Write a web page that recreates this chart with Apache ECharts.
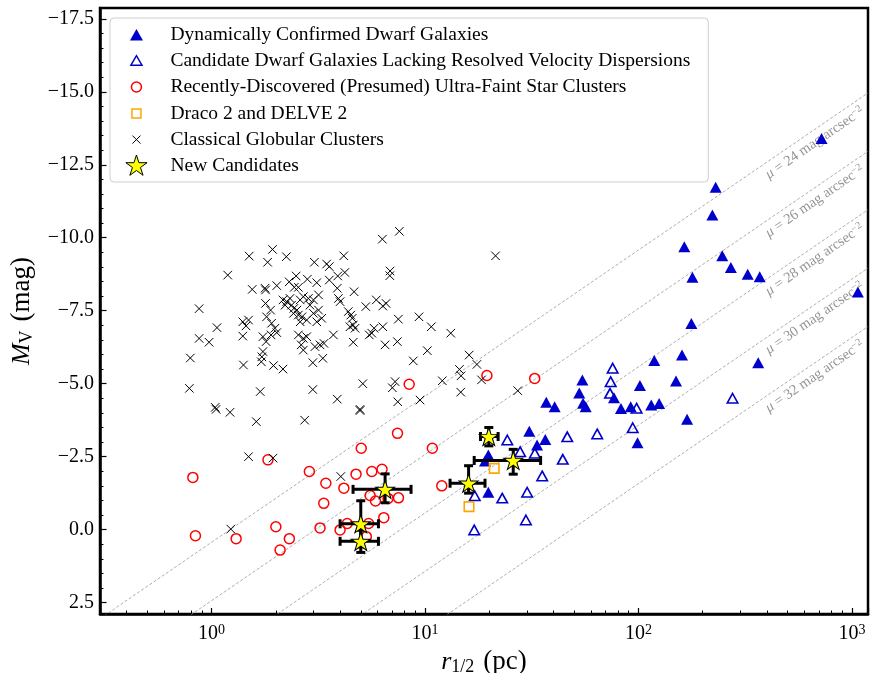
<!DOCTYPE html>
<html><head><meta charset="utf-8">
<script src="https://cdn.jsdelivr.net/npm/echarts@6/dist/echarts.min.js"></script>
<style>html,body{margin:0;padding:0;background:#fff}#c{width:870px;height:673px}</style>
</head><body><div id="c"></div>
<script>
// ---------- data (r_1/2 in pc, M_V in mag) ----------
const dwarfConfirmed = [
 [230,-11.73],[222,-10.78],[164,-9.69],[247,-9.38],[271,-8.98],[325,-8.75],[370,-8.66],[179,-8.65],
 [1067,-8.14],[177,-7.06],[160,-5.98],[118.6,-5.79],[364,-5.72],[150,-5.09],[54.6,-5.13],[101.6,-4.94],
 [52.8,-4.68],[37,-4.36],[40.5,-4.21],[55.0,-4.33],[56.6,-4.21],[76.8,-4.52],[82.8,-4.15],[92,-4.21],
 [114.8,-4.27],[125,-4.32],[169,-3.78],[99,-2.98],[30.8,-3.37],[33.5,-2.90],[36.6,-3.09],[19.8,-2.56],
 [19.1,-2.35],[19.8,-1.28],[721,-13.40]
];
const dwarfCandidates = [
 [75.7,-5.53],[74.1,-5.07],[73.6,-4.67],[98,-4.16],[276,-4.50],[94,-3.49],[64.1,-3.28],[46.4,-3.18],
 [44.2,-2.41],[32.7,-2.62],[27.9,-2.67],[24.3,-3.07],[35.4,-1.84],[30.1,-1.28],[23.0,-1.08],[17.1,-1.16],
 [29.7,-0.33],[17.0,0.01]
];
const starClusters = [
 [0.817,-1.79],[0.840,0.21],[1.303,0.31],[1.837,-2.39],[2.0,-0.10],[2.314,0.31],[2.094,0.70],[2.871,-1.99],
 [3.43,-1.59],[3.354,-0.90],[3.222,-0.06],[4.166,-1.42],[5.025,-2.79],[4.752,-1.90],[5.633,-1.99],[6.29,-2.07],
 [7.43,-3.30],[8.43,-4.98],[4.0,0.01],[4.32,-0.21],[5.44,-0.21],[5.31,0.24],[6.41,-0.41],[5.53,-1.17],
 [5.86,-0.98],[6.71,-1.07],[7.51,-1.09],[10.82,-2.79],[11.98,-1.50],[19.5,-5.28],[32.65,-5.18]
];
const draco2Delve2 = [[21.1,-2.10],[16.07,-0.79]];
const globularClusters = [
 [7.58,-10.22],[6.31,-9.95],[1.93,-9.60],[1.50,-9.37],[2.24,-9.35],[4.16,-9.38],[21.4,-9.38],[1.83,-9.16],
 [3.03,-9.16],[3.46,-9.10],[3.56,-9.01],[1.19,-8.72],[4.21,-8.81],[3.90,-8.69],[6.86,-8.86],[6.84,-8.70],
 [2.49,-8.69],[1.55,-8.23],[1.78,-8.27],[1.79,-8.21],[2.02,-8.36],[2.31,-8.49],[2.55,-8.30],[2.81,-8.58],
 [3.11,-8.46],[3.56,-8.55],[3.88,-8.27],[4.65,-8.15],[2.44,-8.30],[1.79,-7.75],[1.89,-7.52],[1.81,-7.29],
 [1.91,-7.07],[1.98,-6.90],[1.90,-6.67],[2.02,-6.75],[1.74,-6.61],[1.80,-6.44],[1.74,-6.10],[1.71,-5.75],
 [1.95,-5.62],[2.16,-5.50],[2.16,-7.87],[2.21,-7.69],[2.25,-7.81],[2.33,-7.92],[2.37,-7.69],[2.43,-7.58],
 [2.51,-7.52],[2.42,-7.41],[2.55,-7.35],[2.65,-7.29],[2.60,-7.87],[2.69,-7.98],[2.84,-7.92],[2.89,-7.69],
 [3.00,-7.87],[3.17,-8.04],[3.17,-7.52],[3.28,-7.24],[3.11,-7.12],[2.79,-7.18],[2.60,-7.12],[3.00,-7.41],
 [2.55,-6.67],[2.79,-6.61],[2.63,-6.33],[2.69,-6.15],[3.05,-6.27],[3.22,-6.33],[3.36,-6.38],[3.32,-5.87],
 [2.98,-5.72],[3.72,-6.67],[3.93,-7.92],[4.00,-7.81],[4.37,-7.47],[4.49,-7.35],[4.56,-7.24],[4.45,-6.95],
 [4.61,-7.01],[4.70,-6.90],[4.61,-6.42],[5.28,-7.64],[5.91,-7.87],[6.34,-7.66],[6.57,-7.75],[7.50,-7.21],
 [9.37,-7.29],[10.7,-6.95],[13.2,-6.73],[5.77,-6.90],[5.63,-6.73],[5.48,-6.67],[6.34,-6.95],[6.50,-6.33],
 [7.42,-6.44],[8.81,-5.78],[10.25,-6.13],[16.1,-5.98],[17.5,-5.66],[14.5,-5.49],[14.75,-5.27],[12.05,-5.10],
 [18.4,-5.13],[14.7,-4.71],[9.48,-4.44],[7.45,-4.38],[7.24,-5.07],[7.03,-4.86],[5.11,-5.00],[3.88,-4.47],
 [4.96,-4.08],[4.96,-4.12],[2.98,-4.80],[2.73,-3.75],[1.62,-3.70],[1.69,-4.73],[1.22,-4.02],[1.04,-4.19],
 [1.05,-4.12],[0.787,-4.84],[27.2,-4.76],[0.874,-7.57],[1.06,-6.92],[0.874,-6.55],[0.973,-6.42],[0.795,-5.88],
 [1.40,-7.12],[1.45,-6.98],[1.49,-7.18],[1.40,-6.63],[1.41,-5.64],[1.49,-2.50],[1.94,-2.45],[4.03,-1.82],
 [1.23,-0.02],[2.69,-6.55],[1.72,-5.92]
];
// new candidates: [r, M, rLow, rHigh, MBright, MFaint]
const newCandidates = [
 [6.5,-1.38,4.6,8.6,-1.91,-0.92],
 [5.0,-0.20,4.0,6.05,-0.99,0.59],
 [5.0,0.40,4.0,6.05,0.02,0.78],
 [16.0,-1.59,13.1,19.1,-2.19,-1.25],
 [25.9,-2.37,17.0,34.8,-2.75,-1.90],
 [19.9,-3.19,18.2,22.0,-3.50,-2.87]
];
// surface-brightness reference lines: M at r = 0.3 pc and r = 1190 pc
const muLevels = [24,26,28,30,32];
const muLineR = [0.3,1190];
const muLineMStart = [3.05,5.05,7.05,9.05,11.05];
const muLineMEnd = [-14.96,-12.96,-10.96,-8.96,-6.96];
const muLabelR = 370;
const muLabelM = [-12.41,-10.41,-8.41,-6.41,-4.41];
// ticks
const yMajorTicks = [-17.5,-15,-12.5,-10,-7.5,-5,-2.5,0,2.5];
const yTickLabels = ['\u221217.5','\u221215.0','\u221212.5','\u221210.0','\u22127.5','\u22125.0','\u22122.5','0.0','2.5'];
const yMinorTicks = [-17,-16.5,-16,-15.5,-14.5,-14,-13.5,-13,-12,-11.5,-11,-10.5,-9.5,-9,-8.5,-8,-7,-6.5,-6,-5.5,-4.5,-4,-3.5,-3,-2,-1.5,-1,-0.5,0.5,1,1.5,2];
const xMajorTicks = [1,10,100,1000];
const xTickExponents = ['0','1','2','3'];
const xMinorTicks = [0.4,0.5,0.6,0.7,0.8,0.9,2,3,4,5,6,7,8,9,20,30,40,50,60,70,80,90,200,300,400,500,600,700,800,900];
const names = ['Dynamically Confirmed Dwarf Galaxies','Candidate Dwarf Galaxies Lacking Resolved Velocity Dispersions',
 'Recently-Discovered (Presumed) Ultra-Faint Star Clusters','Draco 2 and DELVE 2','Classical Globular Clusters','New Candidates'];

// ---------- chart ----------
const SERIF = 'Liberation Serif';
const BLUE = '#0000cc';
const STAR = 'path://M50,0L61.2,34.5L97.6,34.5L68.2,55.9L79.4,90.5L50,69.1L20.6,90.5L31.8,55.9L2.4,34.5L38.8,34.5Z';
const CROSS = 'path://M0,0L10,10M10,0L0,10';
const ICON = {
  triF: 'path://M0,0M22,22M4.5,16.5L11,5L17.5,16.5Z',
  triO: 'path://M0,0M22,22M5.5,15.5L11,6L16.5,15.5Z',
  circ: 'path://M0,0M22,22M16,11A5,5,0,1,1,6,11A5,5,0,1,1,16,11Z',
  sq: 'path://M0,0M22,22M6.5,6.5L15.5,6.5L15.5,15.5L6.5,15.5Z',
  cross: 'path://M0,0M22,22M7,7L15,15M15,7L7,15',
  star: 'path://M0,0M22,22M11,0.5L13.5,8.2L21.6,8.2L15,13L17.6,20.8L11,16L4.4,20.8L7,13L0.4,8.2L8.5,8.2Z'
};

const chart = echarts.init(document.getElementById('c'), null, {renderer:'canvas'});

const muSeries = muLevels.map((mu, i) => ({
  type:'line', silent:true, symbol:'none', z:1, animation:false,
  data:[[muLineR[0], muLineMStart[i]],[muLineR[1], muLineMEnd[i]]],
  lineStyle:{color:'#999', width:0.8, type:[3,2]}
}));

const titleRich = {
  i:{fontFamily:SERIF, fontStyle:'italic', fontSize:26, color:'#000', lineHeight:28},
  sub:{fontFamily:SERIF, fontSize:18, color:'#000', lineHeight:16, verticalAlign:'bottom'},
  n:{fontFamily:SERIF, fontSize:27, color:'#000', lineHeight:28, padding:[0,0,0,9]}
};

const option = {
  animation:false,
  backgroundColor:'#fff',
  grid:{left:100, top:8, right:2, bottom:59, outerBoundsMode:'none', containLabel:false,
        show:true, borderColor:'#000', borderWidth:2.5, backgroundColor:'transparent'},
  legend:{
    orient:'vertical', left:110, top:18, padding:[6,18,5,14.7],
    itemWidth:22, itemHeight:22, itemGap:2.9,
    backgroundColor:'rgba(255,255,255,0.85)', borderColor:'#cfcfcf', borderWidth:1, borderRadius:4,
    textStyle:{fontFamily:SERIF, fontSize:19.5, lineHeight:22, color:'#000', padding:[0,0,0,18]},
    data:[
      {name:names[0], icon:ICON.triF},
      {name:names[1], icon:ICON.triO, itemStyle:{borderWidth:1.5}},
      {name:names[2], icon:ICON.circ, itemStyle:{borderWidth:1.5}},
      {name:names[3], icon:ICON.sq, itemStyle:{borderWidth:1.5}},
      {name:names[4], icon:ICON.cross, itemStyle:{borderWidth:1}},
      {name:names[5], icon:ICON.star, itemStyle:{borderWidth:1}}
    ]
  },
  xAxis:[
    {type:'log', logBase:10, min:0.3, max:1190,
     axisLine:{onZero:false, lineStyle:{color:'#000', width:2.5}},
     axisTick:{inside:true, length:6, lineStyle:{color:'#000', width:1.2}},
     splitLine:{show:false},
     axisLabel:{margin:9, color:'#000',
       formatter:function(v){ const i = xMajorTicks.findIndex(t => Math.abs(t - v) / t < 1e-6); return i < 0 ? '' : '{b|10}{s|' + xTickExponents[i] + '}'; },
       rich:{b:{fontFamily:SERIF, fontSize:20, color:'#000', lineHeight:22}, s:{fontFamily:SERIF, fontSize:14, color:'#000', lineHeight:13, verticalAlign:'top'}}},
     name:'{i|r}{sub|1/2}{n|(pc)}', nameLocation:'middle', nameGap:34,
     nameTextStyle:{rich:titleRich}
    },
    {type:'log', logBase:10, min:0.3, max:1190, position:'bottom',
     axisLine:{show:false, onZero:false},
     axisTick:{inside:true, length:3.5, customValues:xMinorTicks, lineStyle:{color:'#000', width:1}},
     axisLabel:{show:false}, splitLine:{show:false}}
  ],
  yAxis:[
    {type:'value', inverse:true, min:-17.87, max:2.89,
     axisLine:{show:true, onZero:false, lineStyle:{color:'#000', width:2.5}},
     axisTick:{show:true, inside:true, length:6.5, customValues:yMajorTicks, lineStyle:{color:'#000', width:1.2}},
     splitLine:{show:false},
     axisLabel:{customValues:yMajorTicks, margin:6, color:'#000', fontFamily:SERIF, fontSize:20,
       formatter:function(v){ const i = yMajorTicks.findIndex(t => Math.abs(t - v) < 1e-6); return i < 0 ? '' : yTickLabels[i]; }},
     name:'{i|M}{sub|V}{n|(mag)}', nameLocation:'middle', nameGap:64, nameRotate:90,
     nameTextStyle:{rich:titleRich}
    },
    {type:'value', inverse:true, min:-17.87, max:2.89, position:'left',
     axisLine:{show:false, onZero:false},
     axisTick:{show:true, inside:true, length:3.5, customValues:yMinorTicks, lineStyle:{color:'#000', width:1}},
     axisLabel:{show:false}, splitLine:{show:false}}
  ],
  series:[].concat(muSeries, [
    {type:'custom', name:'muLabels', silent:true, clip:true, z:2,
     data: muLevels.map((mu, i) => [muLabelR, muLabelM[i], mu, muLineR[1], muLineMEnd[i]]),
     renderItem:function(params, api){
       const p = api.coord([api.value(0), api.value(1)]);
       const q = api.coord([api.value(3), api.value(4)]);
       const ang = -Math.atan2(q[1] - p[1], q[0] - p[0]);
       return {type:'text', x:p[0], y:p[1], rotation:ang,
         style:{x:1, y:3, text:'{i|\u03bc} = ' + api.value(2) + ' mag arcsec{s|\u22122}', fill:'#959595',
           fontFamily:SERIF, fontSize:14.5, align:'left', verticalAlign:'top',
           rich:{i:{fontStyle:'italic', fontFamily:SERIF, fontSize:14.5, fill:'#959595', lineHeight:16},
                 s:{fontFamily:SERIF, fontSize:10, fill:'#959595', lineHeight:10, verticalAlign:'top'}}}};
     }},
    {type:'scatter', name:names[0], data:dwarfConfirmed, symbol:'triangle', symbolSize:[12,11], z:3,
     itemStyle:{color:BLUE, borderWidth:0, opacity:1}},
    {type:'scatter', name:names[1], data:dwarfCandidates, symbol:'triangle', symbolSize:[10.5,9.5], z:4,
     itemStyle:{color:'rgba(255,255,255,0)', borderColor:BLUE, borderWidth:1.6, opacity:1}},
    {type:'scatter', name:names[2], data:starClusters, symbol:'circle', symbolSize:10, z:5,
     itemStyle:{color:'rgba(255,255,255,0)', borderColor:'#ff0000', borderWidth:1.5, opacity:1}},
    {type:'scatter', name:names[3], data:draco2Delve2, symbol:'rect', symbolSize:9.5, z:6,
     itemStyle:{color:'rgba(255,255,255,0)', borderColor:'#ffa500', borderWidth:1.6, opacity:1}},
    {type:'scatter', name:names[4], data:globularClusters, symbol:CROSS, symbolSize:8.5, z:7,
     itemStyle:{color:'rgba(0,0,0,0)', borderColor:'#000', borderWidth:1, opacity:1}},
    {type:'custom', name:'errorbars', silent:true, z:8,
     data:newCandidates,
     encode:{x:0, y:1},
     renderItem:function(params, api){
       const c = api.coord([api.value(0), api.value(1)]);
       const l = api.coord([api.value(2), api.value(1)]);
       const r = api.coord([api.value(3), api.value(1)]);
       const t = api.coord([api.value(0), api.value(4)]);
       const b = api.coord([api.value(0), api.value(5)]);
       const cap = 4.5, st = {stroke:'#000', lineWidth:3};
       const ln = (x1,y1,x2,y2) => ({type:'line', shape:{x1,y1,x2,y2}, style:st});
       return {type:'group', children:[
         ln(l[0],c[1],r[0],c[1]), ln(c[0],t[1],c[0],b[1]),
         ln(l[0],c[1]-cap,l[0],c[1]+cap), ln(r[0],c[1]-cap,r[0],c[1]+cap),
         ln(c[0]-cap,t[1],c[0]+cap,t[1]), ln(c[0]-cap,b[1],c[0]+cap,b[1])
       ]};
     }},
    {type:'scatter', name:names[5], data:newCandidates.map(d => [d[0], d[1]]), symbol:STAR, symbolSize:[19,18], z:9,
     itemStyle:{color:'#ffff00', borderColor:'#000', borderWidth:1, opacity:1}}
  ])
};
chart.setOption(option);
</script>
</body></html>
